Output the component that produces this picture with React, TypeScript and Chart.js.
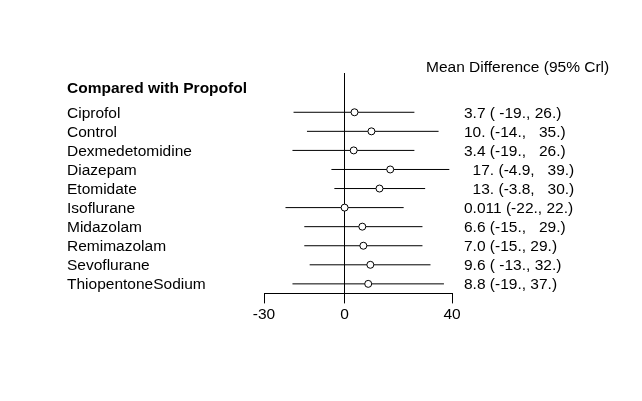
import React, { useEffect, useRef } from "react";
import { Chart, registerables } from "chart.js";

Chart.register(...registerables);

const headerLabel = "Compared with Propofol";
const columnTitle = "Mean Difference (95% Crl)";
const categories = [
  "Ciprofol",
  "Control",
  "Dexmedetomidine",
  "Diazepam",
  "Etomidate",
  "Isoflurane",
  "Midazolam",
  "Remimazolam",
  "Sevoflurane",
  "ThiopentoneSodium",
];
const meanDiff = [3.7, 10, 3.4, 17, 13, 0.011, 6.6, 7.0, 9.6, 8.8];
const lowerCrI = [-19, -14, -19.4, -4.9, -3.8, -22, -15, -15, -13, -19.4];
const upperCrI = [26, 35, 26, 39, 30, 22, 29, 29, 32, 37];
const estimateLabels = [
  "3.7 ( -19., 26.)",
  "10. (-14.,   35.)",
  "3.4 (-19.,   26.)",
  "  17. (-4.9,   39.)",
  "  13. (-3.8,   30.)",
  "0.011 (-22., 22.)",
  "6.6 (-15.,   29.)",
  "7.0 (-15., 29.)",
  "9.6 ( -13., 32.)",
  "8.8 (-19., 37.)",
];
const xTicks = [-30, 0, 40];

const FONT = "'Liberation Sans', Arial, sans-serif";
const FS = 15.5;

const textPlugin = {
  id: "forestText",
  afterDraw(chart: any) {
    const ctx = chart.ctx;
    const y = chart.scales.y;
    ctx.save();
    ctx.fillStyle = "#000";
    ctx.textBaseline = "middle";
    ctx.textAlign = "left";
    ctx.font = `bold ${FS}px ${FONT}`;
    ctx.fillText(headerLabel, 67, y.getPixelForValue(-1.28) + 1);
    ctx.font = `${FS}px ${FONT}`;
    categories.forEach((c, i) => {
      ctx.fillText(c, 67, y.getPixelForValue(i) + 1);
      ctx.fillText(estimateLabels[i], 464, y.getPixelForValue(i) + 1);
    });
    ctx.fillText(columnTitle, 426, y.getPixelForValue(-2.4) + 1);
    ctx.restore();
  },
};

export default function App() {
  const ref = useRef<HTMLCanvasElement>(null);
  useEffect(() => {
    if (!ref.current) return;
    const lineData: any[] = [];
    categories.forEach((_, i) => {
      lineData.push({ x: lowerCrI[i], y: i });
      lineData.push({ x: upperCrI[i], y: i });
      lineData.push({ x: null, y: null });
    });
    const chart = new Chart(ref.current, {
      type: "scatter",
      data: {
        datasets: [
          {
            data: meanDiff.map((v, i) => ({ x: v, y: i })),
            pointRadius: 3.5,
            pointBackgroundColor: "#fff",
            pointBorderColor: "#000",
            pointBorderWidth: 1,
            showLine: false,
            order: 0,
          },
          {
            data: lineData,
            showLine: true,
            spanGaps: false,
            borderColor: "#000",
            borderWidth: 1,
            pointRadius: 0,
            order: 1,
          },
        ],
      },
      options: {
        animation: false,
        responsive: true,
        maintainAspectRatio: false,
        layout: { padding: { left: 264, right: 190, top: 73, bottom: 75 } },
        plugins: { legend: { display: false }, tooltip: { enabled: false } },
        scales: {
          x: {
            type: "linear",
            min: -30,
            max: 40,
            afterBuildTicks: (s: any) => {
              s.ticks = xTicks.map((v) => ({ value: v }));
            },
            grid: {
              drawOnChartArea: true,
              drawTicks: true,
              tickLength: 10,
              tickColor: "#000",
              color: (c: any) => (c.tick && c.tick.value === 0 ? "#000" : "rgba(0,0,0,0)"),
              lineWidth: 1,
            },
            border: { display: true, color: "#000", width: 1 },
            ticks: {
              color: "#000",
              font: { family: FONT, size: FS },
              padding: 2,
              maxRotation: 0,
            },
          },
          y: {
            type: "linear",
            display: false,
            reverse: true,
            min: -2.06,
            max: 9.5,
          },
        },
      },
      plugins: [textPlugin],
    });
    return () => chart.destroy();
  }, []);
  return (
    <div style={{ position: "absolute", left: 0, top: 0, width: 642, height: 401, background: "#fff" }}>
      <canvas ref={ref} />
    </div>
  );
}
